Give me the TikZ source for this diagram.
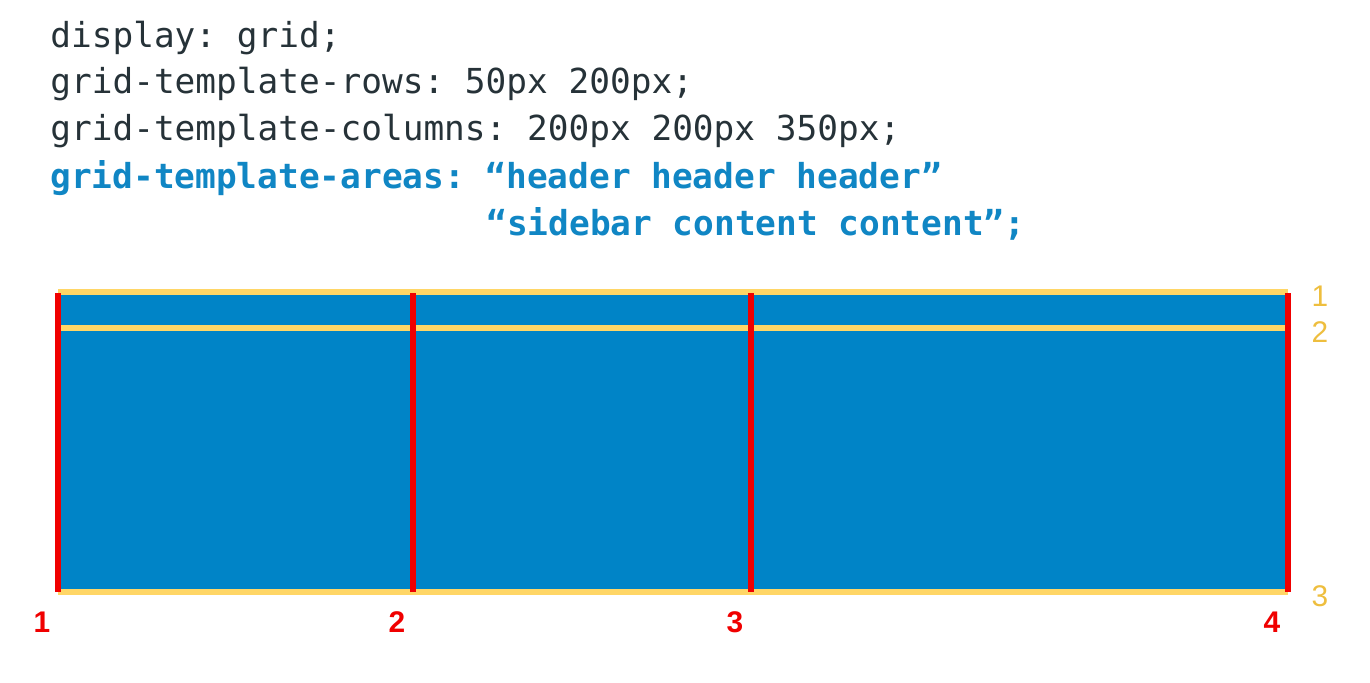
\documentclass[tikz,border=0pt]{standalone}
\usepackage{fontspec}
\setmonofont{DejaVu Sans Mono}
\setsansfont{Liberation Sans}
\usetikzlibrary{positioning}
\definecolor{codegray}{RGB}{38,50,56}
\definecolor{codeblue}{RGB}{16,134,196}
\definecolor{gridblue}{RGB}{0,132,199}
\definecolor{rowyellow}{RGB}{255,214,102}
\definecolor{colred}{RGB}{240,0,0}
\definecolor{numyellow}{RGB}{238,190,62}

\begin{document}
\begin{tikzpicture}[x=0.02cm,y=-0.02cm]
  \tikzstyle{code}=[anchor=base west,inner sep=0pt,text=codegray,font=\ttfamily\fontsize{19.6}{22}\selectfont]
  \tikzstyle{areas}=[code,text=codeblue,font=\ttfamily\bfseries\fontsize{19.6}{22}\selectfont]
  \tikzstyle{rowline}=[rowyellow,line width=3pt]
  \tikzstyle{colline}=[colred,line width=3.4pt]
  \tikzstyle{rownum}=[text=numyellow,font=\sffamily\fontsize{17}{19}\selectfont]
  \tikzstyle{colnum}=[text=colred,font=\sffamily\bfseries\fontsize{17}{19}\selectfont]
  \useasboundingbox (0,0) rectangle (1370,683);
  % the css
  \node[code] (disp) at (50,47) {display: grid;};
  \node[code] (rows) at (50,93) {grid-template-rows: 50px 200px;};
  \node[code] (cols) at (50,140) {grid-template-columns: 200px 200px 350px;};
  \node[areas] (area1) at (50,188) {grid-template-areas: “header header header”};
  \node[areas] (area2) at (486,235) {“sidebar content content”;};
  % the grid
  \fill[gridblue] (58,292) rectangle (1288,592);
  \foreach \y/\n in {292/1,328/2,592/3} {
    \draw[rowline] (58,\y) coordinate (r\n w) -- (1288,\y) coordinate (r\n e);
    \node[rownum] (rn\n) at (1320,\y+4) {\n};
  }
  \foreach \x/\n in {58/1,413/2,751/3,1288/4} {
    \draw[colline] (\x,293) coordinate (c\n n) -- (\x,592) coordinate (c\n s);
    \node[colnum] (cn\n) at (\x-16,622) {\n};
  }
\end{tikzpicture}
\end{document}
